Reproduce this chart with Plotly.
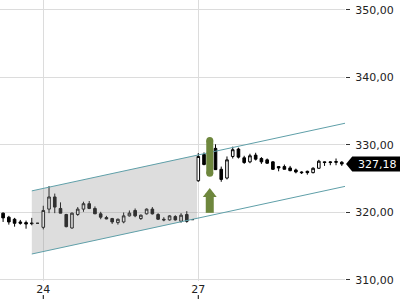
import plotly.graph_objects as go

# ---- data ----
idx = list(range(60))
open_ = [319.9, 319.3, 319.0, 318.6, 318.5, 318.45, 318.4, 317.8, 320.5, 322.3,
         320.6, 319.7, 317.7, 319.7, 320.5, 321.3, 320.6, 319.8, 319.25, 319.1,
         318.5, 318.6, 319.5, 320.3, 319.1, 319.8, 320.5, 319.7, 319.0, 318.9,
         319.4, 318.7, 319.7, 318.95, 324.7, 328.6, 327.1, 329.5, 326.4, 325.1,
         328.3, 329.4, 328.1, 327.5, 328.5, 328.0, 327.8, 327.5, 326.8, 326.8,
         326.6, 326.3, 326.0, 326.1, 325.9, 326.55, 327.5, 327.5, 327.55, 327.45]
high = [320.0, 319.5, 319.2, 318.9, 318.8, 319.2, 318.45, 321.0, 323.9, 322.8,
        321.5, 319.8, 320.0, 320.8, 321.6, 321.7, 320.9, 320.1, 319.5, 319.2,
        319.1, 320.0, 320.3, 320.6, 319.7, 320.6, 320.8, 319.9, 319.3, 319.6,
        319.6, 319.9, 320.2, 319.0, 328.8, 328.9, 329.7, 330.1, 326.8, 328.3,
        329.75, 329.6, 328.4, 328.7, 328.85, 328.2, 328.0, 327.6, 326.85, 327.1,
        326.9, 326.5, 326.1, 326.2, 326.7, 327.8, 327.55, 327.6, 328.0, 327.6]
low = [318.6, 318.2, 317.9, 318.2, 317.6, 318.1, 318.35, 317.5, 319.9, 319.9,
       319.9, 317.8, 317.6, 319.5, 320.1, 320.5, 319.8, 319.0, 319.0, 318.3,
       318.2, 318.4, 319.4, 319.3, 318.9, 319.7, 319.7, 318.9, 318.7, 318.8,
       318.8, 318.5, 318.5, 318.9, 324.55, 327.0, 327.0, 326.3, 324.55, 324.9,
       328.0, 328.0, 327.2, 327.3, 327.7, 327.2, 327.2, 326.3, 326.1, 326.4,
       326.1, 325.8, 325.7, 325.6, 325.8, 326.5, 326.9, 327.0, 327.0, 326.9]
close = [319.2, 318.6, 318.4, 318.4, 318.3, 318.35, 318.4, 320.3, 322.3, 320.8,
         319.9, 317.9, 319.9, 320.5, 321.3, 320.6, 319.8, 319.3, 319.05, 318.6,
         319.0, 319.5, 319.9, 319.5, 319.6, 320.5, 319.8, 319.0, 318.9, 319.5,
         318.9, 319.6, 318.7, 318.95, 328.3, 327.1, 329.5, 326.35, 324.9, 327.8,
         329.3, 328.2, 327.4, 328.4, 327.9, 327.5, 327.3, 326.4, 326.6, 326.4,
         326.2, 326.0, 325.9, 325.9, 326.55, 327.6, 327.4, 327.4, 327.45, 327.18]

tick_vals = [7, 34]
tick_text = ["24", "27"]
y_ticks = [310, 320, 330, 340, 350]

channel_x = [5, 60]
channel_upper = [323.2, 333.3]
channel_lower = [313.85, 323.95]
shade_x = [5, 33.8]
shade_upper = [323.2, 328.5]
shade_lower = [313.85, 319.1]

signal_x = [36]
signal_bar_top = [330.65]
signal_bar_bottom = [325.8]
arrow_head_y = [322.74]
arrow_shaft_y = [321.4]

last_price = close[-1]

GREEN = "#6e873d"
TEAL = "#5f9fa8"
GRID = "#dcdcdc"
FONT = "DejaVu Sans"

fig = go.Figure()

# channel shading
fig.add_trace(go.Scatter(
    x=shade_x + shade_x[::-1], y=shade_upper + shade_lower[::-1],
    fill="toself", fillcolor="rgba(150,150,150,0.32)", line=dict(width=0),
    mode="lines", hoverinfo="skip", showlegend=False))
# channel lines
fig.add_trace(go.Scatter(x=channel_x, y=channel_upper, mode="lines",
                         line=dict(color=TEAL, width=1), showlegend=False))
fig.add_trace(go.Scatter(x=channel_x, y=channel_lower, mode="lines",
                         line=dict(color=TEAL, width=1), showlegend=False))

# signal highlight bar
fig.add_trace(go.Scatter(
    x=signal_x * 2, y=signal_bar_top + signal_bar_bottom,
    mode="lines+markers", line=dict(color=GREEN, width=7),
    marker=dict(symbol="circle", size=7, color=GREEN),
    showlegend=False))
# arrow
fig.add_trace(go.Scatter(
    x=signal_x, y=arrow_shaft_y, mode="markers",
    marker=dict(symbol="line-ns", size=14, line=dict(color=GREEN, width=8)),
    showlegend=False))
fig.add_trace(go.Scatter(
    x=signal_x, y=arrow_head_y, mode="markers",
    marker=dict(symbol="triangle-up", size=12, color=GREEN, line=dict(width=0)),
    showlegend=False))

fig.add_trace(go.Candlestick(
    x=idx, open=open_, high=high, low=low, close=close,
    increasing=dict(line=dict(color="black", width=1), fillcolor="white"),
    decreasing=dict(line=dict(color="black", width=1), fillcolor="black"),
    whiskerwidth=0, showlegend=False))

px_per_unit = (351.48 - 309.85) / 281.0
half_h = 7.5 * px_per_unit

fig.add_shape(type="path", xref="paper", yref="y",
              path=f"M 1.003,{last_price} L 1.021,{last_price + half_h} "
                   f"L 1.16,{last_price + half_h} L 1.16,{last_price - half_h} "
                   f"L 1.021,{last_price - half_h} Z",
              fillcolor="black", line=dict(width=0), layer="above")
fig.add_annotation(x=1.031, xref="paper", y=last_price, yref="y",
                   xanchor="left", yanchor="middle", showarrow=False,
                   text=f"{last_price:.2f}".replace(".", ","),
                   font=dict(family=FONT, size=11, color="white"))

for tv in tick_vals:
    fig.add_shape(type="line", xref="x", yref="paper", x0=tv, x1=tv,
                  y0=-0.05, y1=-0.064, line=dict(color="black", width=1))

fig.update_layout(
    width=400, height=300,
    margin=dict(l=0, r=55, t=0, b=19),
    paper_bgcolor="white", plot_bgcolor="white",
    separators=",.",
    boxgap=0.35,
    font=dict(family=FONT, size=11, color="#222"),
    showlegend=False,
    xaxis=dict(range=[-0.54, 59.56], tickvals=tick_vals, ticktext=tick_text,
               showgrid=True, gridcolor=GRID, gridwidth=1, ticks="",
               zeroline=False, showline=False, rangeslider=dict(visible=False),
               tickfont=dict(family=FONT, size=11, color="#222")),
    yaxis=dict(range=[309.85, 351.48], side="right", tickvals=y_ticks,
               tickformat=".2f", ticks="outside", ticklen=4, tickcolor="#333",
               showgrid=True, gridcolor=GRID, gridwidth=1, zeroline=False,
               showline=False, ticklabelstandoff=3,
               tickfont=dict(family=FONT, size=11, color="#222")),
)

fig.write_html("out.html")
